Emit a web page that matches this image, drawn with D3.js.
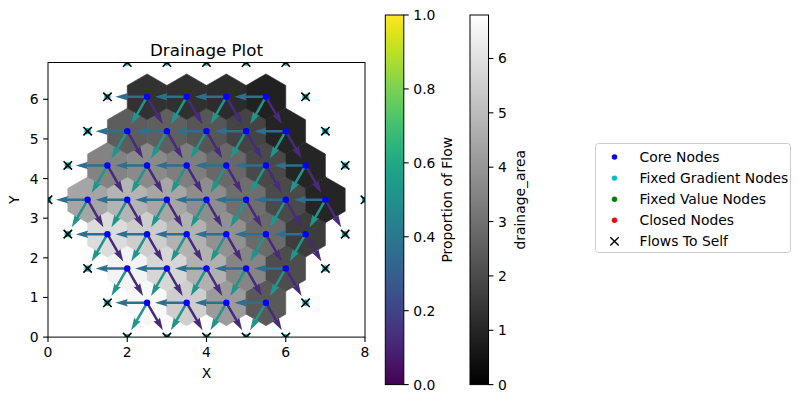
<!DOCTYPE html>
<html><head><meta charset="utf-8">
<script src="https://cdn.jsdelivr.net/npm/d3@7"></script>
<style>
body{margin:0;background:#fff}
svg{display:block}
text{font-family:"DejaVu Sans",sans-serif;fill:#000}
</style>
</head><body>
<svg id="c" width="803" height="403"></svg>
<script>
// ---------- data ----------
const title = "Drainage Plot";
const coreRowY = [0.866, 1.732, 2.598, 3.464, 4.330, 5.196, 6.062];
const coreRowX = [
  [2.5, 3.5, 4.5, 5.5],
  [2, 3, 4, 5, 6],
  [1.5, 2.5, 3.5, 4.5, 5.5, 6.5],
  [1, 2, 3, 4, 5, 6, 7],
  [1.5, 2.5, 3.5, 4.5, 5.5, 6.5],
  [2, 3, 4, 5, 6],
  [2.5, 3.5, 4.5, 5.5]
];
const drainageArea = [
  [6.62, 5.50, 4.12, 2.36],
  [6.48, 5.70, 4.72, 3.54, 2.05],
  [5.86, 5.46, 4.75, 3.86, 2.83, 1.62],
  [4.40, 4.80, 4.42, 3.77, 2.92, 1.97, 0.99],
  [3.48, 3.69, 3.36, 2.78, 1.94, 0.98],
  [2.47, 2.52, 2.28, 1.81, 0.97],
  [1.33, 1.29, 1.18, 0.87]
];
const boundaryX = [2,3,4,5,6, 1.5,6.5, 1,7, 0.5,7.5, 0,8, 0.5,7.5, 1,7, 1.5,6.5, 2,3,4,5,6];
const boundaryY = [0,0,0,0,0, 0.866,0.866, 1.732,1.732, 2.598,2.598, 3.464,3.464, 4.330,4.330, 5.196,5.196, 6.062,6.062, 6.928,6.928,6.928,6.928,6.928];
// receivers of every core node: west, south-west, south-east neighbour
const receiverNames = ["W", "SW", "SE"];
const receiverDX = [-1, -0.5, 0.5];
const receiverDY = [0, -0.866, -0.866];
const receiverProportion = [0.36, 0.52, 0.12];
const xTicks = [0, 2, 4, 6, 8];
const yTicks = [0, 1, 2, 3, 4, 5, 6];
const flowTicks = [0, 0.2, 0.4, 0.6, 0.8, 1.0];
const areaTicks = [0, 1, 2, 3, 4, 5, 6];
const areaMax = 6.8;
const legendLabels = ["Core Nodes", "Fixed Gradient Nodes", "Fixed Value Nodes", "Closed Nodes", "Flows To Self"];
const legendColors = ["#0000ff", "#00bfbf", "#008000", "#ff0000", "#000000"];

// ---------- layout ----------
const svg = d3.select("#c");
const AX = {l: 48, r: 365, t: 62.5, b: 337.1};
const x = d3.scaleLinear().domain([0, 8]).range([AX.l, AX.r]);
const y = d3.scaleLinear().domain([0, 6.928]).range([AX.b, AX.t]);
const gray = d3.scaleLinear().domain([0, areaMax]).range(["#000000", "#ffffff"]).clamp(true);
const viridis = p => d3.interpolateViridis(Math.min(255, Math.floor(p * 256)) / 255);

const defs = svg.append("defs");
defs.append("clipPath").attr("id", "axclip").append("rect")
  .attr("x", AX.l).attr("y", AX.t).attr("width", AX.r - AX.l).attr("height", AX.b - AX.t);

const core = [];
coreRowY.forEach((yy, i) => coreRowX[i].forEach((xx, j) => core.push({x: xx, y: yy, a: drainageArea[i][j]})));
const bnd = boundaryX.map((xx, i) => ({x: xx, y: boundaryY[i]}));

const plot = svg.append("g").attr("clip-path", "url(#axclip)");

// hexagonal cells
const R = 0.57735;
const angles = [90, 150, 210, 270, 330, 30].map(a => a * Math.PI / 180);
plot.append("g").selectAll("polygon").data(core).join("polygon")
  .attr("points", d => angles.map(t => [x(d.x + R * Math.cos(t)), y(d.y + R * Math.sin(t))].join(",")).join(" "))
  .attr("fill", d => gray(d.a))
  .attr("stroke", d => gray(d.a))
  .attr("stroke-width", 0.6);

// quiver arrows
const W = 2.5;
function arrowPts(x0, y0, x1, y1) {
  const L = Math.hypot(x1 - x0, y1 - y0), ux = (x1 - x0) / L, uy = (y1 - y0) / L, nx = -uy, ny = ux;
  const p = [[0, 0.5], [L - 4.5 * W, 0.5], [L - 5 * W, 1.5], [L, 0], [L - 5 * W, -1.5], [L - 4.5 * W, -0.5], [0, -0.5]];
  return p.map(([a, b]) => [x0 + ux * a + nx * b * W, y0 + uy * a + ny * b * W].join(",")).join(" ");
}
receiverNames.forEach((nm, k) => {
  plot.append("g").attr("class", "q-" + nm).selectAll("polygon").data(core).join("polygon")
    .attr("points", d => arrowPts(x(d.x), y(d.y), x(d.x + 0.8 * receiverDX[k]), y(d.y + 0.8 * receiverDY[k])))
    .attr("fill", viridis(receiverProportion[k]));
});

// nodes
plot.append("g").selectAll("circle").data(core).join("circle")
  .attr("cx", d => x(d.x)).attr("cy", d => y(d.y)).attr("r", 3.2).attr("fill", legendColors[0]);
plot.append("g").selectAll("circle").data(bnd).join("circle")
  .attr("cx", d => x(d.x)).attr("cy", d => y(d.y)).attr("r", 3.2).attr("fill", legendColors[1]);
const xs = 4.2;
plot.append("g").selectAll("path").data(bnd).join("path")
  .attr("d", d => {const cx = x(d.x), cy = y(d.y); return `M${cx-xs},${cy-xs}L${cx+xs},${cy+xs}M${cx-xs},${cy+xs}L${cx+xs},${cy-xs}`;})
  .attr("stroke", "#000").attr("stroke-width", 1.6).attr("fill", "none");

// axes frame
svg.append("rect").attr("x", AX.l).attr("y", AX.t).attr("width", AX.r - AX.l).attr("height", AX.b - AX.t)
  .attr("fill", "none").attr("stroke", "#000").attr("stroke-width", 1);

const fs = 13.9;
const xa = svg.append("g");
xTicks.forEach(t => {
  xa.append("line").attr("x1", x(t)).attr("x2", x(t)).attr("y1", AX.b).attr("y2", AX.b + 4.9).attr("stroke", "#000").attr("stroke-width", 1.1);
  xa.append("text").attr("x", x(t)).attr("y", AX.b + 20).attr("text-anchor", "middle").attr("font-size", fs).text(t);
});
yTicks.forEach(t => {
  xa.append("line").attr("x1", AX.l - 4.9).attr("x2", AX.l).attr("y1", y(t)).attr("y2", y(t)).attr("stroke", "#000").attr("stroke-width", 1.1);
  xa.append("text").attr("x", AX.l - 9.5).attr("y", y(t)).attr("dy", "0.36em").attr("text-anchor", "end").attr("font-size", fs).text(t);
});
svg.append("text").attr("x", (AX.l + AX.r) / 2).attr("y", 378).attr("text-anchor", "middle").attr("font-size", fs).text("X");
svg.append("text").attr("transform", `translate(19,${(AX.t + AX.b) / 2}) rotate(-90)`).attr("text-anchor", "middle").attr("font-size", fs).text("Y");
svg.append("text").attr("x", (AX.l + AX.r) / 2).attr("y", 55.5).attr("text-anchor", "middle").attr("font-size", 16.7).text(title);

// colorbars
const CB = {t: 15, b: 384.6};
function colorbar(x0, id, stops, ticks, scale, fmt, label, labelX) {
  const g = defs.append("linearGradient").attr("id", id).attr("x1", 0).attr("y1", 1).attr("x2", 0).attr("y2", 0);
  stops.forEach(s => g.append("stop").attr("offset", s.o).attr("stop-color", s.c));
  const w = 18.5;
  svg.append("rect").attr("x", x0).attr("y", CB.t).attr("width", w).attr("height", CB.b - CB.t).attr("fill", `url(#${id})`);
  svg.append("rect").attr("x", x0).attr("y", CB.t).attr("width", w).attr("height", CB.b - CB.t)
    .attr("fill", "none").attr("stroke", "#000").attr("stroke-width", 1);
  const s = d3.scaleLinear().domain(scale).range([CB.b, CB.t]);
  ticks.forEach(t => {
    svg.append("line").attr("x1", x0 + w).attr("x2", x0 + w + 4.9).attr("y1", s(t)).attr("y2", s(t)).attr("stroke", "#000").attr("stroke-width", 1.1);
    svg.append("text").attr("x", x0 + w + 9.5).attr("y", s(t)).attr("dy", "0.36em").attr("font-size", fs).text(fmt(t));
  });
  svg.append("text").attr("transform", `translate(${labelX},${(CB.t + CB.b) / 2}) rotate(-90)`)
    .attr("text-anchor", "middle").attr("dy", "0.35em").attr("font-size", fs).text(label);
}
colorbar(385.3, "gv", d3.range(0, 1.0001, 0.05).map(o => ({o, c: d3.interpolateViridis(o)})), flowTicks, [0, 1], d3.format(".1f"), "Proportion of Flow", 447);
colorbar(470, "gg", [{o: 0, c: "#000"}, {o: 1, c: "#fff"}], areaTicks, [0, areaMax], d3.format("d"), "drainage_area", 520);

// legend
const lg = svg.append("g");
lg.append("rect").attr("x", 595.5).attr("y", 143.5).attr("width", 195).attr("height", 109).attr("rx", 3)
  .attr("fill", "#fff").attr("fill-opacity", 0.8).attr("stroke", "#cccccc").attr("stroke-width", 1);
legendLabels.forEach((lab, i) => {
  const cy = 157 + i * 21.1;
  if (i < 4) {
    lg.append("circle").attr("cx", 614.5).attr("cy", cy).attr("r", 2.7).attr("fill", legendColors[i]);
  } else {
    lg.append("path").attr("d", `M${614.5-xs},${cy-xs}L${614.5+xs},${cy+xs}M${614.5-xs},${cy+xs}L${614.5+xs},${cy-xs}`)
      .attr("stroke", legendColors[i]).attr("stroke-width", 1.4);
  }
  lg.append("text").attr("x", 639.5).attr("y", cy).attr("dy", "0.36em").attr("font-size", fs).text(lab);
});
</script>
</body></html>
